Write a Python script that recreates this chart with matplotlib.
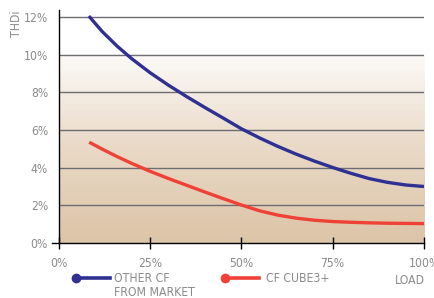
import numpy as np
import matplotlib
matplotlib.use("Agg")
import matplotlib.pyplot as plt
from matplotlib.colors import LinearSegmentedColormap
from matplotlib import font_manager

# ---- data ----
load_other = [8.3, 12, 16, 20, 25, 30, 35, 40, 45, 50, 55, 60, 65, 70, 75, 80, 85, 90, 95, 100]
thdi_other = [12.05, 11.22, 10.46, 9.79, 9.05, 8.39, 7.78, 7.2, 6.64, 6.07, 5.58, 5.13, 4.72,
              4.35, 4.01, 3.70, 3.42, 3.22, 3.08, 3.0]
load_cube = [8.4, 12, 16, 20, 25, 30, 35, 40, 45, 50, 55, 60, 65, 70, 75, 80, 85, 90, 95, 100]
thdi_cube = [5.35, 4.98, 4.59, 4.23, 3.81, 3.43, 3.07, 2.71, 2.36, 2.02, 1.71, 1.48, 1.32,
             1.21, 1.14, 1.10, 1.07, 1.05, 1.04, 1.03]
x_ticks = [0, 25, 50, 75, 100]
x_labels = ["0%", "25%", "50%", "75%", "100%"]
y_ticks = [0, 2, 4, 6, 8, 10, 12]
y_labels = ["0%", "2%", "4%", "6%", "8%", "10%", "12%"]
series_names = [["OTHER CF", "FROM MARKET"], ["CF CUBE3+"]]
x_title = "LOAD"
y_title = "THDi"

# find a narrow / condensed regular font
cands = []
for f in font_manager.fontManager.ttflist:
    fn = f.fname.lower()
    if ("narrow" in fn or "condensed" in fn) and not any(k in fn for k in ["bold", "italic", "oblique", "light", "thin", "black", "medium", "semi", "extra"]):
        pri = 0 if "liberationsansnarrow" in fn.replace("-", "") else (1 if "dejavusanscondensed" in fn.replace("-", "") else 2)
        cands.append((pri, f.fname))
cands.sort()
if cands:
    FP = font_manager.FontProperties(fname=cands[0][1])
else:
    FP = font_manager.FontProperties(family="DejaVu Sans")
FS = 8.7
FP.set_size(FS)

BLUE = "#2e3192"
RED = "#ef4136"
TXT = "#8a8a8a"
GRID = "#6d6e71"

W, H = 434, 298
fig = plt.figure(figsize=(W / 100, H / 100), dpi=100)
x0, x1 = 58.5, 424
y0 = 243
ppu = (243 - 17) / 12.0
ytop = 12.35
ax = fig.add_axes([x0 / W, 1 - y0 / H, (x1 - x0) / W, ytop * ppu / H])
ax.set_xlim(0, 100)
ax.set_ylim(0, ytop)
ax.patch.set_alpha(0)

# gradient background from 0 to 10
cmap = LinearSegmentedColormap.from_list("g", ["#dcc4a7", "#e9d9c6", "#fcfaf7"])
grad = np.linspace(0, 1, 256).reshape(-1, 1)
ax.imshow(grad, extent=[0, 100, 0, 10], origin="lower", aspect="auto", cmap=cmap, zorder=0)

for y in y_ticks[1:]:
    ax.axhline(y, color=GRID, lw=1.0, zorder=1)

ax.plot(load_other, thdi_other, color=BLUE, lw=2.4, solid_capstyle="butt", solid_joinstyle="round", zorder=3)
ax.plot(load_cube, thdi_cube, color=RED, lw=2.4, solid_capstyle="butt", solid_joinstyle="round", zorder=3)

for s in ["top", "right"]:
    ax.spines[s].set_visible(False)
for s in ["left", "bottom"]:
    ax.spines[s].set_color("black")
    ax.spines[s].set_linewidth(1.0)
    ax.spines[s].set_zorder(4)

ax.set_xticks(x_ticks)
ax.set_xticklabels(x_labels, fontproperties=FP)
ax.tick_params(axis="x", direction="inout", length=8.6, width=1.0, colors="black",
               labelcolor=TXT, pad=5.5)
ax.set_yticks(y_ticks)
ax.set_yticklabels(y_labels, fontproperties=FP)
ax.tick_params(axis="y", length=0, labelcolor=TXT, pad=7.5)
# small tick left at 0
ax.plot([-1.7, 0], [0, 0], color="black", lw=1.0, clip_on=False, zorder=4)

fig.text(16 / W, 1 - 24 / H, y_title, rotation=90, ha="center", va="center", color=TXT, fontproperties=FP)
fig.text(424.5 / W, 1 - 281 / H, x_title, ha="right", va="center", color=TXT, fontproperties=FP)

# legend
def leg(xd, xe, color, lines, xt):
    yy = 1 - 278.3 / H
    fig.add_artist(plt.Line2D([xd / W, xe / W], [yy, yy], color=color, lw=2.6, transform=fig.transFigure))
    fig.add_artist(plt.Line2D([xd / W], [yy], marker="o", ms=6, color=color, transform=fig.transFigure))
    for i, t in enumerate(lines):
        fig.text(xt / W, 1 - (279 + 13.5 * i) / H, t, ha="left", va="center", color=TXT, fontproperties=FP)

leg(76, 110, BLUE, series_names[0], 114)
leg(225, 259, RED, series_names[1], 266.5)

fig.savefig("out.png", dpi=100)
